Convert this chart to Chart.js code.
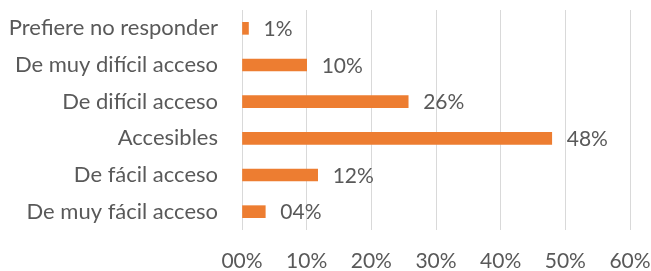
<!DOCTYPE html>
<html>
<head>
<meta charset="utf-8">
<script src="https://cdn.jsdelivr.net/npm/chart.js@4.4.1/dist/chart.umd.min.js"></script>
<style>
  html, body { margin: 0; padding: 0; background: #fff; }
  #wrap { width: 651px; height: 271px; position: relative; }
</style>
</head>
<body>
<div id="wrap"><canvas id="chart"></canvas></div>
<script>
const categories = [
  'Prefiere no responder',
  'De muy difícil acceso',
  'De difícil acceso',
  'Accesibles',
  'De fácil acceso',
  'De muy fácil acceso',
];
const values = [1, 10, 25.7, 47.9, 11.7, 3.6];
const valueLabels = ['1%', '10%', '26%', '48%', '12%', '04%'];
const tickLabels = ['00%', '10%', '20%', '30%', '40%', '50%', '60%'];

const textColor = '#595959';
const fontFamily = 'Lato, "Open Sans", sans-serif';
const fontSize = 21;

// draws the value text to the right of each bar
const barLabels = {
  id: 'barLabels',
  afterDatasetsDraw(chart) {
    const ctx = chart.ctx;
    const meta = chart.getDatasetMeta(0);
    ctx.save();
    ctx.fillStyle = textColor;
    ctx.font = `${fontSize}px ${fontFamily}`;
    ctx.textAlign = 'left';
    ctx.textBaseline = 'middle';
    meta.data.forEach((bar, i) => {
      ctx.fillText(valueLabels[i], bar.x + 15, bar.y + 1);
    });
    ctx.restore();
  },
};

new Chart(document.getElementById('chart'), {
  type: 'bar',
  data: {
    labels: categories,
    datasets: [{
      data: values,
      backgroundColor: '#ED7D31',
      borderWidth: 0,
      barThickness: 12,
    }],
  },
  options: {
    indexAxis: 'y',
    responsive: true,
    maintainAspectRatio: false,
    animation: false,
    layout: { padding: { top: 10, right: 21, left: 0, bottom: 0 } },
    plugins: {
      legend: { display: false },
      tooltip: { enabled: false },
    },
    scales: {
      x: {
        min: 0,
        max: 60,
        ticks: {
          stepSize: 10,
          color: textColor,
          font: { family: fontFamily, size: fontSize },
          padding: 19,
          callback: (v, i) => tickLabels[i],
        },
        grid: { color: '#D9D9D9', lineWidth: 1, drawTicks: false },
        border: { display: false },
        afterFit: (scale) => {
          scale.height = 41;
          scale.paddingLeft = 0;
          scale.paddingRight = 0;
        },
      },
      y: {
        ticks: {
          color: textColor,
          font: { family: fontFamily, size: 22 },
          padding: 24,
        },
        grid: { display: false, drawTicks: false },
        border: { display: false },
        afterFit: (scale) => {
          scale.width = 242;
          scale.paddingTop = 0;
          scale.paddingBottom = 0;
        },
      },
    },
  },
  plugins: [barLabels],
});
</script>
</body>
</html>
